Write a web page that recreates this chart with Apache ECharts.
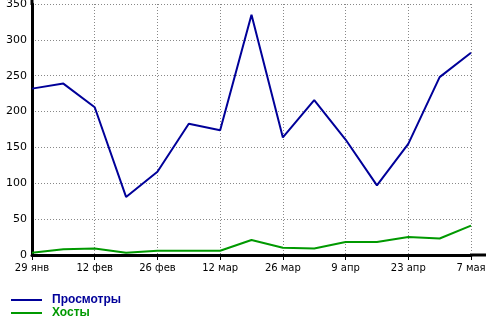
<!DOCTYPE html>
<html><head><meta charset="utf-8">
<script src="https://cdn.jsdelivr.net/npm/echarts@6/dist/echarts.min.js"></script>
<style>html,body{margin:0;padding:0;background:#fff;overflow:hidden}#c{width:486px;height:325px}</style>
</head><body><div id="c"></div>
<script>
var categories = ['29 янв','5 фев','12 фев','19 фев','26 фев','5 мар','12 мар','19 мар','26 мар','2 апр','9 апр','16 апр','23 апр','30 апр','7 мая'];
var views = [232, 239, 206, 81, 116, 183, 174, 335, 164, 216, 161, 97, 155, 248, 282];
var hosts = [3, 8, 9, 3, 6, 6, 6, 21, 10, 9, 18, 18, 25, 23, 41];
var yTicks = [0, 50, 100, 150, 200, 250, 300, 350];
var seriesNames = ['Просмотры', 'Хосты'];
var colors = ['#000099', '#009900'];

var chart = echarts.init(document.getElementById('c'), null, {renderer: 'canvas'});
var font = '"DejaVu Sans", sans-serif';
chart.setOption({
  animation: false,
  backgroundColor: '#fff',
  grid: {left: 32, right: 15, top: 4, bottom: 70, containLabel: false, outerBoundsMode: 'none'},
  xAxis: {
    type: 'category', data: categories, boundaryGap: false,
    axisLine: {lineStyle: {color: '#000', width: 3}},
    axisTick: {interval: 1, length: 5, lineStyle: {color: '#000', width: 1}},
    axisLabel: {interval: 1, color: '#000', fontFamily: font, fontSize: 10, margin: 8, hideOverlap: false},
    splitLine: {show: true, interval: 1, lineStyle: {color: '#888', type: [1, 2], width: 1}}
  },
  yAxis: {
    type: 'value', min: yTicks[0], max: yTicks[yTicks.length - 1], interval: 50,
    axisLine: {show: true, lineStyle: {color: '#000', width: 3}},
    axisTick: {show: false},
    axisLabel: {color: '#000', fontFamily: font, fontSize: 11, margin: 5},
    splitLine: {show: true, lineStyle: {color: '#888', type: [1, 2], width: 1}}
  },
  legend: {
    orient: 'vertical', left: 11, top: 294, itemGap: 1, padding: 0, height: 31,
    itemWidth: 31, itemHeight: 2, icon: 'rect',
    data: [
      {name: seriesNames[0], textStyle: {color: colors[0]}},
      {name: seriesNames[1], textStyle: {color: colors[1]}}
    ],
    textStyle: {fontFamily: '"Liberation Sans", Arial, sans-serif', fontSize: 12, fontWeight: 'bold', lineHeight: 12, padding: [0, 0, 0, 5]}
  },
  graphic: [
    {type: 'line', shape: {x1: 470, y1: 255, x2: 486, y2: 255}, style: {stroke: '#000', lineWidth: 3}},
    {type: 'line', shape: {x1: 32, y1: 0, x2: 32, y2: 5}, style: {stroke: '#000', lineWidth: 3}}
  ],
  series: [
    {name: seriesNames[0], type: 'line', data: views, symbol: 'none', color: colors[0], lineStyle: {width: 2, color: colors[0]}},
    {name: seriesNames[1], type: 'line', data: hosts, symbol: 'none', color: colors[1], lineStyle: {width: 2, color: colors[1]}}
  ]
});
</script></body></html>
